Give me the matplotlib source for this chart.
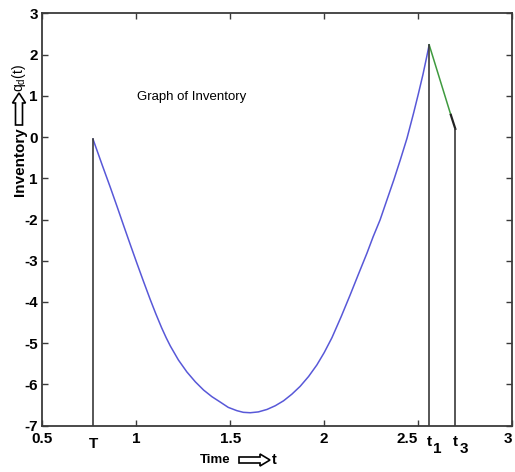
import matplotlib
matplotlib.use("Agg")
import matplotlib.pyplot as plt
import matplotlib.transforms as mtransforms
from matplotlib import font_manager
from matplotlib.patches import FancyArrow

plt.rcParams['font.family'] = ['Liberation Sans', 'DejaVu Sans']
plt.rcParams['mathtext.default'] = 'regular'

installed = {f.name for f in font_manager.fontManager.ttflist}
narrow = 'Liberation Sans Narrow' if 'Liberation Sans Narrow' in installed else 'Liberation Sans'

# Key times on the inventory cycle
T = 0.771
t1 = 2.558
t3 = 2.697

# Inventory level q_d(t) between T and t1
time_main = [0.771, 0.82, 0.863, 0.90, 0.934, 0.97, 1.005, 1.04, 1.075, 1.105,
             1.136, 1.16, 1.182, 1.225, 1.27, 1.315, 1.359, 1.403, 1.447, 1.49,
             1.536, 1.57, 1.607, 1.65, 1.696, 1.74, 1.784, 1.828, 1.872, 1.917,
             1.961, 2.0, 2.041, 2.09, 2.138, 2.18, 2.227, 2.26, 2.297, 2.333,
             2.37, 2.404, 2.44, 2.475, 2.50, 2.525, 2.545, 2.558]
inv_main = [-0.05, -0.68, -1.22, -1.70, -2.15, -2.62, -3.07, -3.51, -3.94, -4.29,
            -4.63, -4.87, -5.07, -5.41, -5.70, -5.94, -6.14, -6.30, -6.43, -6.56,
            -6.64, -6.68, -6.69, -6.67, -6.61, -6.52, -6.40, -6.24, -6.05, -5.81,
            -5.53, -5.23, -4.87, -4.36, -3.83, -3.35, -2.82, -2.42, -2.01, -1.53,
            -1.04, -0.56, -0.03, 0.58, 1.04, 1.52, 1.95, 2.24]

# Decline after t1
time_green = [2.558, 2.673]
inv_green = [2.24, 0.54]
time_black = [2.673, 2.697]
inv_black = [0.54, 0.20]

xtick_vals = [0.5, 1, 1.5, 2, 2.5, 3]
xtick_labels = ['0.5', '1', '1.5', '2', '2.5', '3']
ytick_vals = [3, 2, 1, 0, -1, -2, -3, -4, -5, -6, -7]
ytick_labels = ['3', '2', '1', '0', '1', '-2', '-3', '-4', '-5', '-6', '-7']

W, H = 515, 472
fig = plt.figure(figsize=(W / 100, H / 100), dpi=100)
ax = fig.add_axes([0.0816, 0.0985, 0.9132, 0.8729])

ax.plot(time_main, inv_main, color='#5858d8', lw=1.1)
ax.plot(time_green, inv_green, color='#3f9a3f', lw=1.1)
ax.plot(time_black, inv_black, color='#222222', lw=1.6)

edge = '#3a3a3a'
for tx, ty in [(T, inv_main[0]), (t1, inv_main[-1]), (t3, inv_black[-1])]:
    ax.plot([tx, tx], [-7, ty], color=edge, lw=1.2)

ax.set_xlim(0.5, 3)
ax.set_ylim(-7, 3)
ax.set_xticks(xtick_vals)
ax.set_xticklabels(xtick_labels)
ax.set_yticks(ytick_vals)
ax.set_yticklabels(ytick_labels)
ax.tick_params(direction='in', length=4, width=1, color=edge, top=True, right=True,
               labelsize=11, pad=3)
ax.tick_params(axis='x', pad=5)
for lab in ax.get_xticklabels() + ax.get_yticklabels():
    lab.set_fontweight('bold')
for s in ax.spines.values():
    s.set_color(edge)
    s.set_linewidth(1.3)

# nudge crowded labels
lbls = ax.get_xticklabels()
lbls[4].set_transform(lbls[4].get_transform() + mtransforms.ScaledTranslation(-11 / 100, 0, fig.dpi_scale_trans))
lbls[5].set_transform(lbls[5].get_transform() + mtransforms.ScaledTranslation(-4 / 100, 0, fig.dpi_scale_trans))

xt = ax.get_xaxis_transform()
ax.text(T, -0.028, 'T', transform=xt, ha='center', va='top', fontsize=11, fontweight='bold')
for tx, sub in [(t1, '1'), (t3, '3')]:
    ax.text(tx, -0.022, 't', transform=xt, ha='center', va='top', fontsize=11, fontweight='bold')
    ax.text(tx + 0.045, -0.04, sub, transform=xt, ha='center', va='top', fontsize=11, fontweight='bold')

ax.text(1.005, 0.97, 'Graph of Inventory', fontsize=10.5 if narrow != 'Liberation Sans' else 9.5,
        family=[narrow, 'DejaVu Sans'], ha='left', va='center')

# axis labels with hollow arrows (positions in pixels from the top-left)
def fx(px):
    return px / W

def fy(py):
    return 1 - py / H

fig.text(fx(215), fy(460), 'Time', fontsize=11 if narrow != 'Liberation Sans' else 9.5,
         fontweight='bold', family=[narrow, 'DejaVu Sans'], ha='center', va='center')
fig.text(fx(274), fy(460), 't', fontsize=10.5, fontweight='bold', ha='center', va='center')
fig.text(fx(20), fy(162), 'Inventory', fontsize=11, fontweight='bold', rotation=90,
         ha='center', va='center')
fig.text(fx(19), fy(78), '$q_d$(t)', fontsize=10, rotation=90, ha='center', va='center')

px = mtransforms.IdentityTransform()
fig.patches.append(FancyArrow(239, H - 460, 31, 0, width=6, head_width=12, head_length=10,
                              length_includes_head=True, facecolor='white', edgecolor='black',
                              lw=1.2, transform=px, figure=fig))
fig.patches.append(FancyArrow(19, H - 125, 0, 32, width=7, head_width=13, head_length=10,
                              length_includes_head=True, facecolor='white', edgecolor='black',
                              lw=1.2, transform=px, figure=fig))

fig.savefig('out.png', dpi=100)
